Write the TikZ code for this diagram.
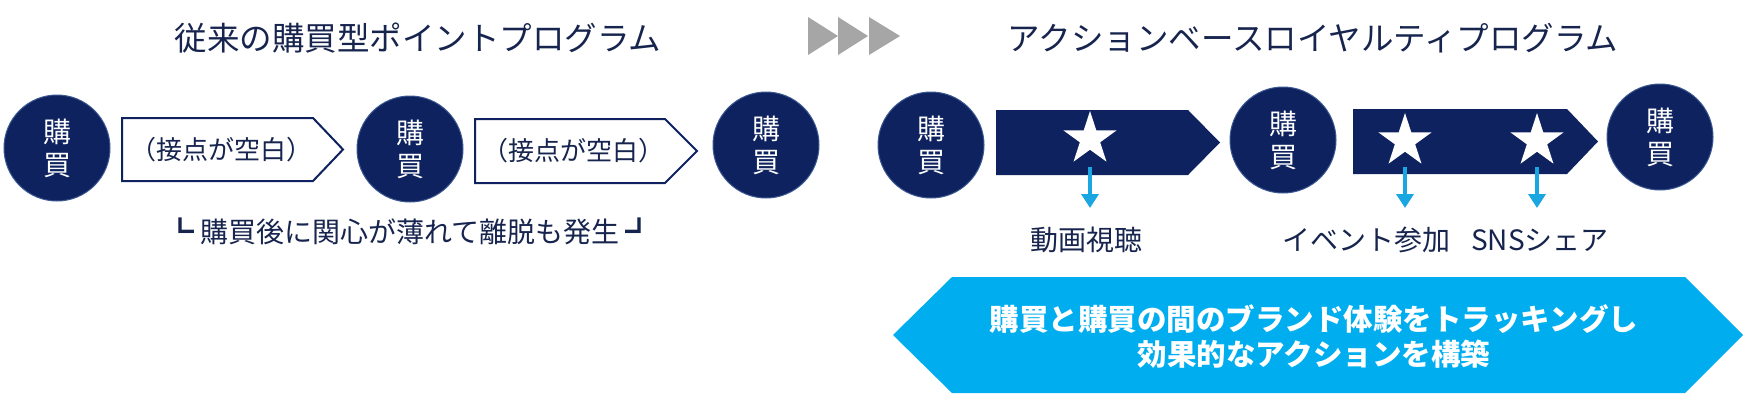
\documentclass[tikz,border=0pt]{standalone}
\usepackage{fontspec}
\setmainfont{Noto Sans CJK JP}
\usetikzlibrary{shapes.geometric,arrows.meta}
\definecolor{navy}{RGB}{13,34,94}
\definecolor{navytext}{RGB}{22,36,78}
\definecolor{rim}{RGB}{60,88,145}
\definecolor{cyanbig}{RGB}{0,174,239}
\definecolor{cyansmall}{RGB}{26,167,225}
\definecolor{grayarr}{RGB}{166,166,166}
\tikzset{
  buycirc/.style={circle, fill=navy, draw=rim, line width=1pt, minimum size=106pt, inner sep=0pt,
    text=white, align=center, font=\fontsize{28}{33}\selectfont},
  outlinearrow/.style={draw=navy, line width=2pt, fill=white, line join=miter},
  filledarrow/.style={fill=navy},
  gaplabel/.style={text=navytext, font=\fontsize{26}{30}\selectfont},
  titletext/.style={text=navytext, font=\fontsize{32.5}{38}\selectfont},
  actlabel/.style={text=navytext, font=\fontsize{28}{32}\selectfont},
  whitestar/.style={star, star points=5, star point ratio=2.618, minimum size=56pt, inner sep=0pt, fill=white},
  bluearr/.style={draw=cyansmall, line width=4.5pt, -{Triangle[width=17pt,length=14pt]}},
  grayarrow/.style={fill=grayarr},
}
\begin{document}
\begin{tikzpicture}[x=1pt,y=-1pt]
\useasboundingbox[fill=white] (0,0) rectangle (1753,402);

% titles
\node[titletext] (t1) at (418,38) {従来の購買型ポイントプログラム};
\node[titletext] (t2) at (1313,38) {アクションベースロイヤルティプログラム};

% gray triangles
\fill[grayarrow] (808,17) -- (838,36) -- (808,55) -- cycle;
\fill[grayarrow] (838,17) -- (868,36) -- (838,55) -- cycle;
\fill[grayarrow] (869,17) -- (900,36) -- (869,55) -- cycle;

% left row
\draw[outlinearrow] (122,118) -- (313,118) -- (343,149.5) -- (313,181) -- (122,181) -- cycle;
\node[gaplabel] (g1) at (221,150) {（接点が空白）};
\draw[outlinearrow] (475,119) -- (665,119) -- (697,151) -- (665,183) -- (475,183) -- cycle;
\node[gaplabel] (g2) at (573,151) {（接点が空白）};

\node[buycirc] (c1) at (57,148) {購\\買};
\node[buycirc] (c2) at (410,149) {購\\買};
\node[buycirc] (c3) at (766,145) {購\\買};

\node[text=navytext, font=\fontsize{28}{32}\selectfont] (note) at (410,231) {┗ 購買後に関心が薄れて離脱も発生 ┛};

% right row
\fill[filledarrow] (996,110) -- (1188,110) -- (1220,142.5) -- (1188,175) -- (996,175) -- cycle;
\fill[filledarrow] (1353,109) -- (1567,109) -- (1598,141.5) -- (1567,174) -- (1353,174) -- cycle;

\node[buycirc] (c4) at (931,145) {購\\買};
\node[buycirc] (c5) at (1283,140) {購\\買};
\node[buycirc] (c6) at (1660,137) {購\\買};

\node[whitestar] (s1) at (1090,139) {};
\node[whitestar] (s2) at (1405,141) {};
\node[whitestar] (s3) at (1537,141) {};

\coordinate (e1) at (1090,208);
\coordinate (e2) at (1405,208);
\coordinate (e3) at (1537,208);
\draw[bluearr] ([yshift=-28pt]s1.center) -- (e1);
\draw[bluearr] ([yshift=-26pt]s2.center) -- (e2);
\draw[bluearr] ([yshift=-26pt]s3.center) -- (e3);

\node[actlabel] (l1) at (1086,240) {動画視聴};
\node[actlabel] (l2) at (1366,240) {イベント参加};
\node[actlabel] (l3) at (1540,240) {SNSシェア};

% big hexagon
\fill[cyanbig] (893,335) -- (952,277) -- (1685,277) -- (1743,335) -- (1685,393) -- (952,393) -- cycle;
\node[text=white, align=center, font=\bfseries\fontsize{29.5}{35}\selectfont] (msg) at (1314,336)
  {購買と購買の間のブランド体験をトラッキングし\\効果的なアクションを構築};
\end{tikzpicture}
\end{document}
